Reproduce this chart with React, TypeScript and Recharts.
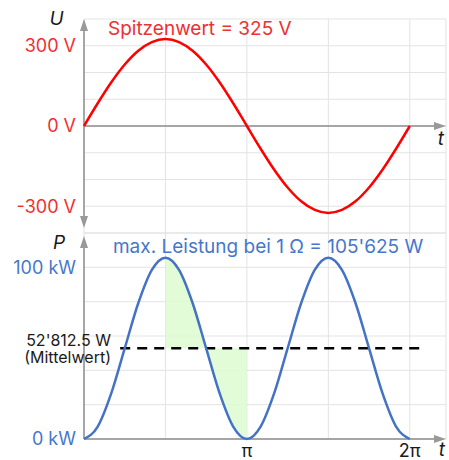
import React from "react";
import {
  ComposedChart,
  Line,
  Area,
  XAxis,
  YAxis,
  CartesianGrid,
  ReferenceLine,
  ReferenceDot,
} from "recharts";

const FONT = "Inter, 'Noto Sans', sans-serif";
const RED = "#ff0000";
const RED_TEXT = "#ef3030";
const BLUE = "#4472c4";
const BLUE_TEXT = "#4677cc";
const INK = "#1a1a1a";
const GRID = "#e3e3e3";
const AXIS = "#8c8c8c";
const SHADE = "#dcfbcf";

// phase angle in degrees, 360 = 2π
const angles = [0, 15, 30, 45, 60, 75, 90, 105, 120, 135, 150, 165, 180, 195, 210, 225, 240, 255, 270, 285, 300, 315, 330, 345, 360];
// voltage in V
const voltage = [0, 84.1, 162.5, 229.8, 281.5, 313.9, 325, 313.9, 281.5, 229.8, 162.5, 84.1, 0, -84.1, -162.5, -229.8, -281.5, -313.9, -325, -313.9, -281.5, -229.8, -162.5, -84.1, 0];
// power at 1 ohm in kW
const power = [0, 7.08, 26.41, 52.81, 79.22, 98.55, 105.63, 98.55, 79.22, 52.81, 26.41, 7.08, 0, 7.08, 26.41, 52.81, 79.22, 98.55, 105.63, 98.55, 79.22, 52.81, 26.41, 7.08, 0];
const meanPower = 52.8125;
const shadeFrom = 90;
const shadeCross = 135;
const shadeTo = 180;
const meanFrom = 40;
const meanTo = 378;

const xTicks = [0, 90, 180, 270, 360];
const xTickLabels: Record<number, string> = { 180: "π", 360: "2π" };
const uTicks = [-400, -300, -200, -100, 0, 100, 200, 300, 400];
const uTickLabels: Record<number, string> = { 300: "300 V", 0: "0 V", "-300": "-300 V" };
const pTicks = [0, 20, 40, 60, 80, 100, 120];
const pTickLabels: Record<number, string> = { 0: "0 kW", 100: "100 kW" };

const data = angles.map((t, i) => ({ t, u: voltage[i], p: power[i] }));

const W = 449;

// axis line with arrow heads, drawn as a ReferenceLine shape
const arrowAxis = (opts: { start?: boolean; end?: boolean; trimStart?: number; trimEnd?: number }) => (p: any) => {
  const { x1, y1, x2, y2 } = p;
  const horizontal = Math.abs(y1 - y2) < 0.5;
  const L = 12;
  const H = 4;
  if (horizontal) {
    const y = y1;
    const a = Math.min(x1, x2) + (opts.trimStart ?? 0);
    const b = Math.max(x1, x2) - (opts.trimEnd ?? 0);
    return (
      <g>
        <line x1={a} y1={y} x2={opts.end ? b - 6 : b} y2={y} stroke={AXIS} strokeWidth={1.5} />
        {opts.end && <polygon points={`${b},${y} ${b - L},${y - H} ${b - L},${y + H}`} fill="#999" />}
      </g>
    );
  }
  const x = x1;
  const a = Math.min(y1, y2) + (opts.trimStart ?? 0); // top
  const b = Math.max(y1, y2) - (opts.trimEnd ?? 0); // bottom
  return (
    <g>
      <line x1={x} y1={opts.start ? a + 6 : a} x2={x} y2={opts.end ? b - 6 : b} stroke={AXIS} strokeWidth={1.5} />
      {opts.start && <polygon points={`${x},${a} ${x - H},${a + L} ${x + H},${a + L}`} fill="#999" />}
      {opts.end && <polygon points={`${x},${b} ${x - H},${b - L} ${x + H},${b - L}`} fill="#999" />}
    </g>
  );
};

const note = (
  key: string,
  x: number,
  y: number,
  text: string,
  color: string,
  anchor: "start" | "middle" | "end" = "start",
  italic = false,
  size = 18
) => (
  <ReferenceDot
    key={key}
    x={x}
    y={y}
    r={0}
    ifOverflow="visible"
    fill="none"
    stroke="none"
    label={(lp: any) => (
      <text
        x={lp.viewBox.x}
        y={lp.viewBox.y}
        textAnchor={anchor}
        fill={color}
        fontSize={size}
        fontStyle={italic ? "italic" : "normal"}
        fontFamily={FONT}
      >
        {text}
      </text>
    )}
  />
);

export default function App() {
  return (
    <div style={{ position: "absolute", left: 0, top: 0, width: W, height: 460, fontFamily: FONT }}>
      <div style={{ position: "absolute", left: 0, top: 0 }}>
        <ComposedChart width={W} height={240} data={data} margin={{ top: 19, right: 3, bottom: 7, left: 0 }}>
          <CartesianGrid stroke={GRID} strokeWidth={1} />
          <XAxis dataKey="t" type="number" domain={[0, 400]} ticks={xTicks} hide />
          <YAxis
            type="number"
            domain={[-400, 400]}
            ticks={uTicks}
            width={84}
            axisLine={false}
            tickLine={false}
            interval={0}
            tick={{ fill: RED_TEXT, fontSize: 18, fontFamily: FONT }}
            tickFormatter={(v: number) => uTickLabels[v] ?? ""}
          />
          <ReferenceLine y={0} shape={arrowAxis({ end: true })} />
          <ReferenceLine x={0} shape={arrowAxis({ start: true, end: true, trimEnd: 5 })} />
          <Line
            type="monotone"
            dataKey="u"
            stroke={RED}
            strokeWidth={2.5}
            dot={false}
            isAnimationActive={false}
          />
          {note("u", -30.4, 377, "U", INK, "middle", true, 19)}
          {note("peak", 26.5, 340, "Spitzenwert = 325 V", RED_TEXT, "start", false, 19)}
          {note("t1", 391, -71, "t", INK, "start", true, 19)}
        </ComposedChart>
      </div>
      <div style={{ position: "absolute", left: 0, top: 220 }}>
        <ComposedChart width={W} height={240} data={data} margin={{ top: 13, right: 3, bottom: 0, left: 0 }}>
          <CartesianGrid stroke={GRID} strokeWidth={1} />
          <XAxis
            dataKey="t"
            type="number"
            domain={[0, 400]}
            ticks={xTicks}
            interval={0}
            height={21}
            axisLine={false}
            tickLine={false}
            tickMargin={-1}
            tick={{ fill: INK, fontSize: 18, fontFamily: FONT }}
            tickFormatter={(v: number) => xTickLabels[v] ?? ""}
          />
          <YAxis
            type="number"
            domain={[0, 120]}
            ticks={pTicks}
            width={84}
            axisLine={false}
            tickLine={false}
            interval={0}
            tick={{ fill: BLUE_TEXT, fontSize: 18, fontFamily: FONT }}
            tickFormatter={(v: number) => pTickLabels[v] ?? ""}
          />
          <Area
            type="monotone"
            dataKey={(d: any) => (d.t >= shadeFrom && d.t <= shadeCross ? [meanPower, d.p] : null)}
            stroke="none"
            fill={SHADE}
            fillOpacity={0.85}
            isAnimationActive={false}
          />
          <Area
            type="monotone"
            dataKey={(d: any) => (d.t >= shadeCross && d.t <= shadeTo ? [d.p, meanPower] : null)}
            stroke="none"
            fill={SHADE}
            fillOpacity={0.85}
            isAnimationActive={false}
          />
          <ReferenceLine y={0} shape={arrowAxis({ end: true })} />
          <ReferenceLine x={0} shape={arrowAxis({ start: true, trimStart: 3 })} />
          <ReferenceLine
            segment={[
              { x: meanFrom, y: meanPower },
              { x: meanTo, y: meanPower },
            ]}
            stroke="#000"
            strokeWidth={2.5}
            strokeDasharray="10 7"
            ifOverflow="visible"
          />
          <Line
            type="monotone"
            dataKey="p"
            stroke={BLUE}
            strokeWidth={2.5}
            dot={false}
            isAnimationActive={false}
          />
          {note("p", -27.6, 110.7, "P", INK, "middle", true, 19)}
          {note("max", 32, 108.3, "max. Leistung bei 1 Ω = 105'625 W", BLUE_TEXT, "start", false, 19)}
          {note("mean1", 29.8, 54.2, "52'812.5 W", INK, "end", false, 16)}
          {note("mean2", 29.8, 44.2, "(Mittelwert)", INK, "end", false, 16)}
          {note("t2", 392, -10, "t", INK, "start", true, 19)}
        </ComposedChart>
      </div>
    </div>
  );
}
